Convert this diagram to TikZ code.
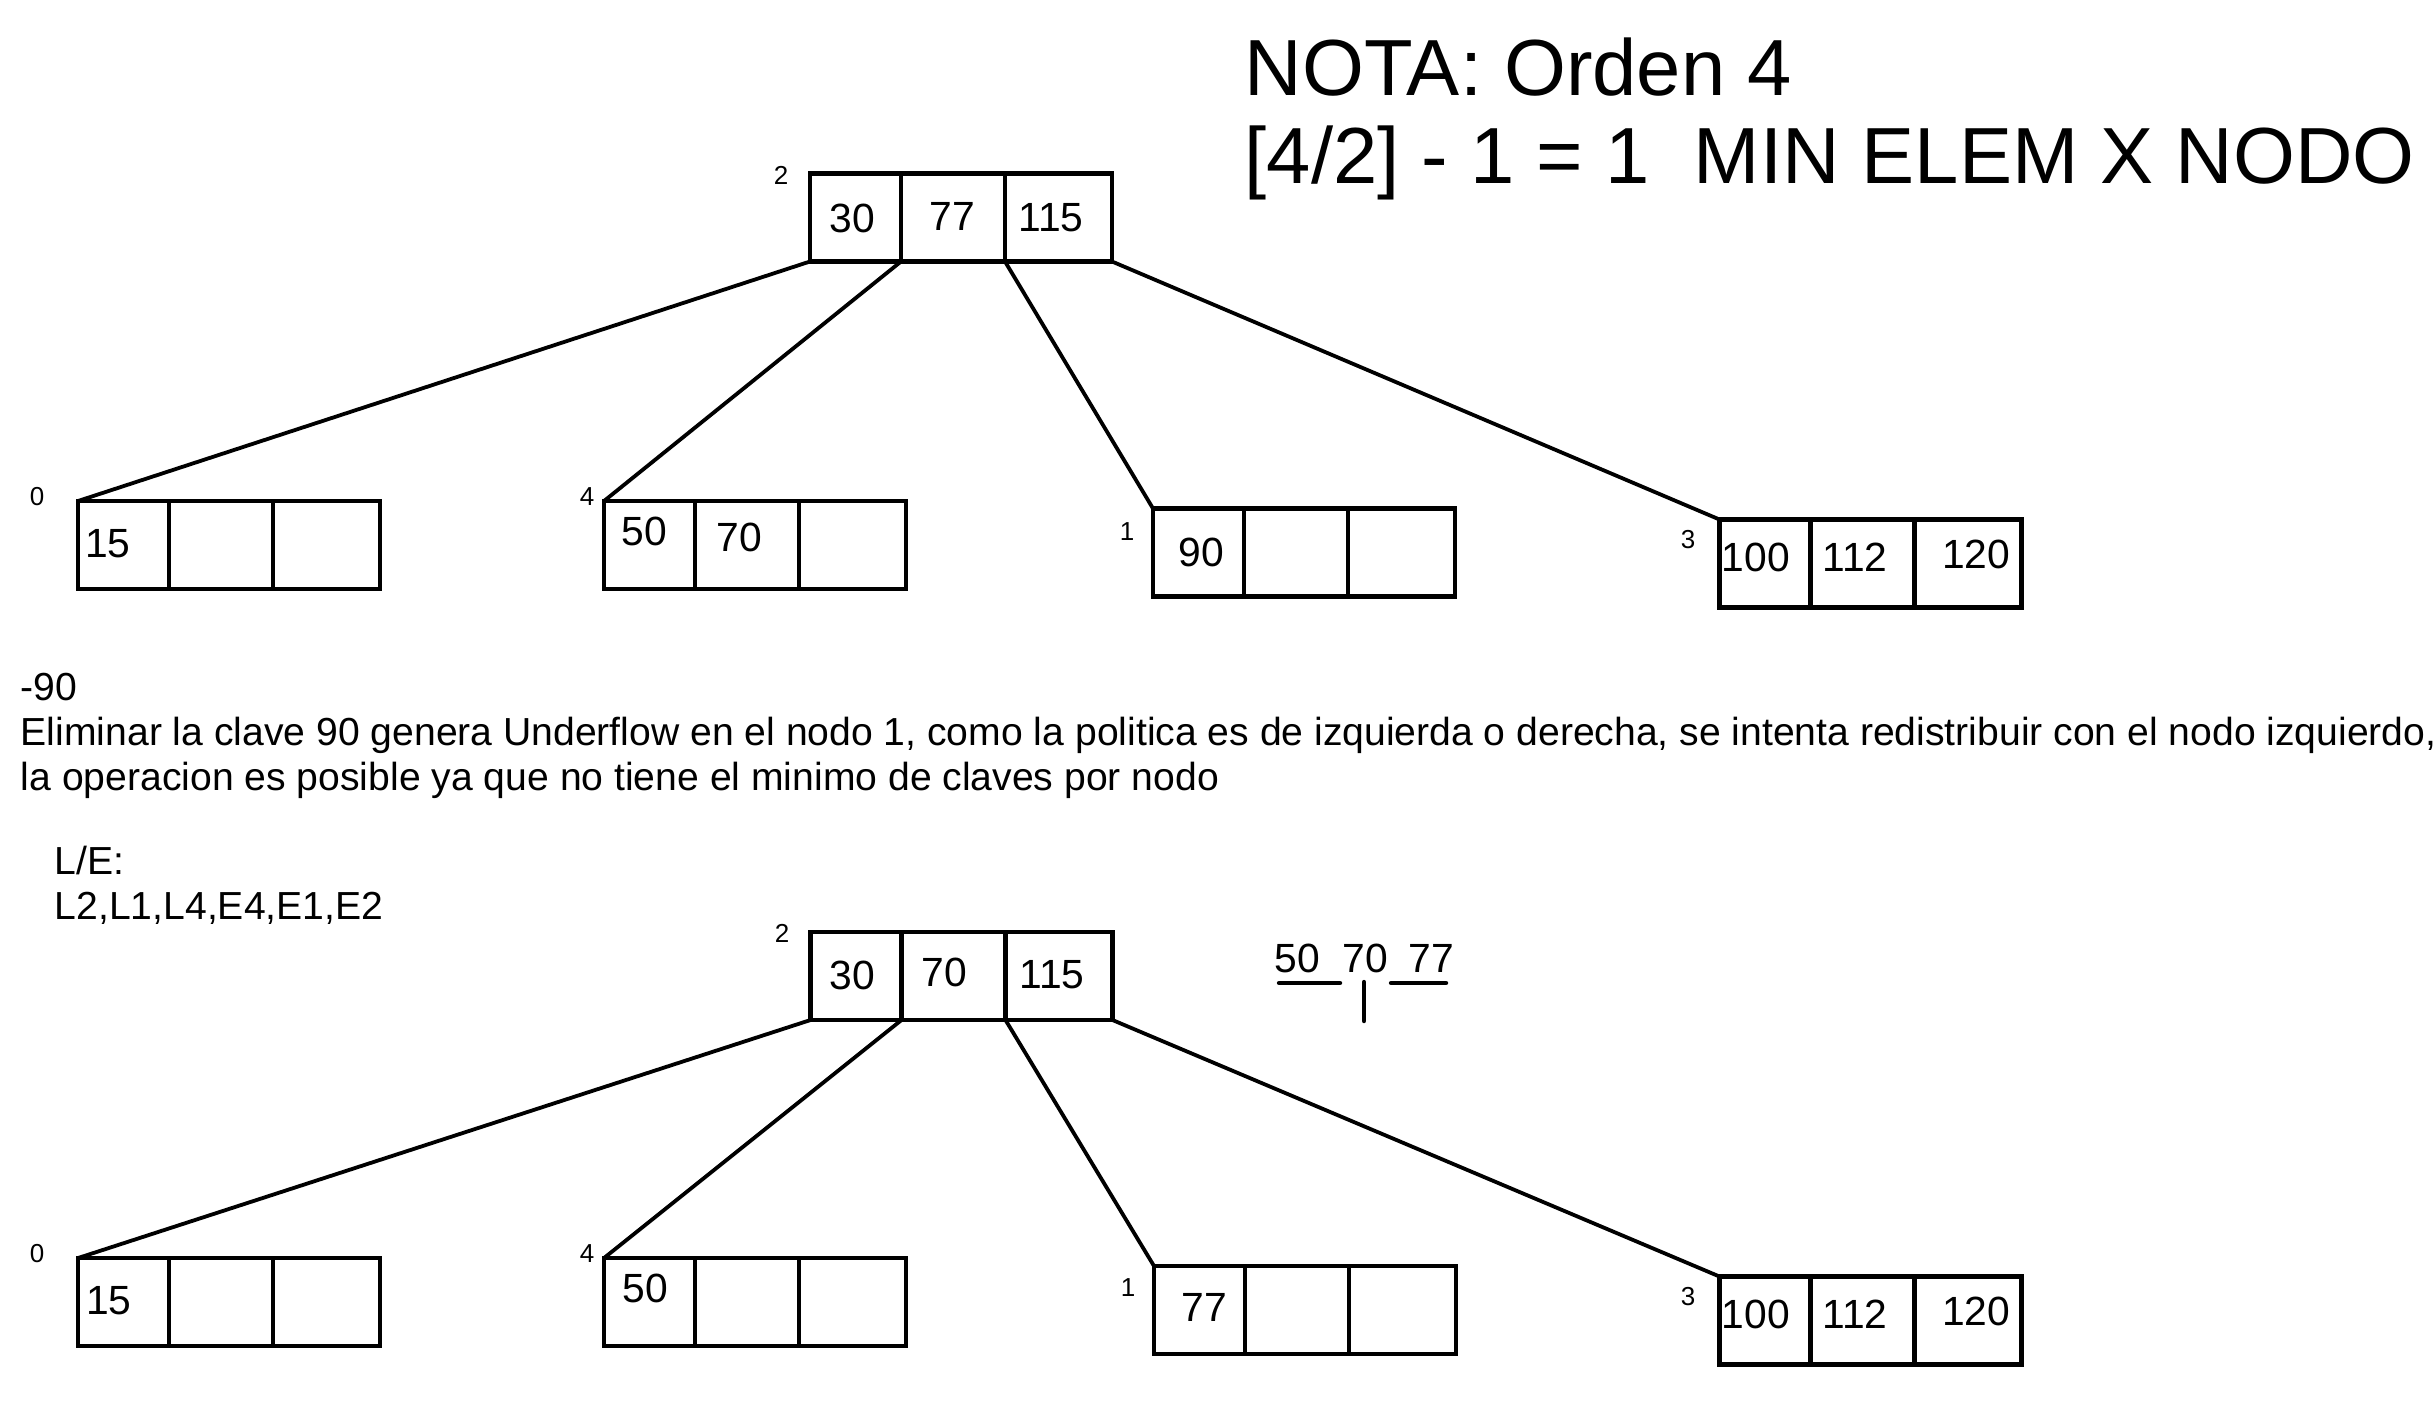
\documentclass[tikz,border=0pt]{standalone}
\usepackage{fontspec}
\setmainfont{Liberation Sans}
\usetikzlibrary{calc}
\begin{document}
\begin{tikzpicture}[x=0.25pt,y=-0.25pt,
  bbox/.style={draw,line width=1.1pt,inner sep=0pt,outer sep=0pt,minimum width=75.5pt,minimum height=22pt},
  val/.style={inner sep=0pt,font=\fontsize{10.2pt}{12pt}\selectfont},
  lbl/.style={inner sep=0pt,font=\fontsize{6.5pt}{7.5pt}\selectfont},
  txt/.style={inner sep=0pt,anchor=base west,font=\fontsize{9.78pt}{11pt}\selectfont},
  ttl/.style={inner sep=0pt,anchor=base west,font=\fontsize{19.9pt}{24pt}\selectfont},
  edge/.style={line width=0.95pt},
  notestroke/.style={line width=1.1pt,line cap=round}]
\fill[white] (0,0) rectangle (2436,1416);
\useasboundingbox (0,0) rectangle (2436,1416);
\newcommand\btnode[3]{%
  \node[bbox] (#1) at (#2,#3) {};
  \draw[line width=1.1pt] ($(#1.north west)+(91,0)$) -- ($(#1.south west)+(91,0)$) coordinate (#1-d1);
  \draw[line width=1.1pt] ($(#1.north west)+(195,0)$) -- ($(#1.south west)+(195,0)$) coordinate (#1-d2);
}
% title
\node[ttl] (t1) at (1244,95) {NOTA: Orden 4};
\node[ttl] (t2) at (1244,183) {[4/2] - 1 = 1\ \ MIN ELEM X NODO};
% ---------- top tree
\btnode{ra}{961}{217.5}
\btnode{ca0}{229}{545}
\btnode{ca4}{755}{545}
\btnode{ca1}{1304}{552.5}
\btnode{ca3}{1870.5}{563.5}
\draw[edge] (ra.south west) -- (ca0.north west);
\draw[edge] (ra-d1) -- (ca4.north west);
\draw[edge] (ra-d2) -- (ca1.north west);
\draw[edge] (ra.south east) -- (ca3.north west);
\node[lbl] (ra-l) at (781,175) {2};
\node[val] (ra-v1) at (852,218) {30};
\node[val] (ra-v2) at (952,216) {77};
\node[val] (ra-v3) at (1051,218) {115};
\node[lbl] (ca0-l) at (37,497) {0};
\node[val] (ca0-v1) at (108,544) {15};
\node[lbl] (ca4-l) at (587,497) {4};
\node[val] (ca4-v1) at (644,531) {50};
\node[val] (ca4-v2) at (739,537) {70};
\node[lbl] (ca1-l) at (1127,532) {1};
\node[val] (ca1-v1) at (1201,552) {90};
\node[lbl] (ca3-l) at (1688,540) {3};
\node[val] (ca3-v1) at (1756,557) {100};
\node[val] (ca3-v2) at (1855,557) {112};
\node[val] (ca3-v3) at (1976,554) {120};
% ---------- text
\node[txt] (m90) at (20,700) {-90};
\node[txt] (p1) at (20,745) {Eliminar la clave 90 genera Underflow en el nodo 1, como la politica es de izquierda o derecha, se intenta redistribuir con el nodo izquierdo,};
\node[txt] (p2) at (20,790) {la operacion es posible ya que no tiene el minimo de claves por nodo};
\node[txt] (le1) at (54,874) {L/E:};
\node[txt] (le2) at (54,919) {L2,L1,L4,E4,E1,E2};
% ---------- bottom tree
\btnode{rb}{961.5}{976}
\btnode{cb0}{229}{1302}
\btnode{cb4}{755}{1302}
\btnode{cb1}{1305}{1310}
\btnode{cb3}{1870.5}{1320.5}
\draw[edge] (rb.south west) -- (cb0.north west);
\draw[edge] (rb-d1) -- (cb4.north west);
\draw[edge] (rb-d2) -- (cb1.north west);
\draw[edge] (rb.south east) -- (cb3.north west);
\node[lbl] (rb-l) at (782,933) {2};
\node[val] (rb-v1) at (852,975) {30};
\node[val] (rb-v2) at (944,972) {70};
\node[val] (rb-v3) at (1052,975) {115};
\node[lbl] (cb0-l) at (37,1254) {0};
\node[val] (cb0-v1) at (109,1301) {15};
\node[lbl] (cb4-l) at (587,1254) {4};
\node[val] (cb4-v1) at (645,1288) {50};
\node[lbl] (cb1-l) at (1128,1288) {1};
\node[val] (cb1-v1) at (1204,1307) {77};
\node[lbl] (cb3-l) at (1688,1297) {3};
\node[val] (cb3-v1) at (1756,1314) {100};
\node[val] (cb3-v2) at (1855,1314) {112};
\node[val] (cb3-v3) at (1976,1311) {120};
% ---------- side note
\node[val] (s50) at (1297,958) {50};
\node[val] (s70) at (1365,958) {70};
\node[val] (s77) at (1431,958) {77};
\coordinate (u1a) at (1279,983);
\coordinate (u1b) at (1340,983);
\coordinate (u2a) at (1391,983);
\coordinate (u2b) at (1446,983);
\coordinate (tka) at (1364,982);
\coordinate (tkb) at (1364,1021);
\draw[notestroke] (u1a) -- (u1b);
\draw[notestroke] (u2a) -- (u2b);
\draw[notestroke] (tka) -- (tkb);
\end{tikzpicture}
\end{document}
